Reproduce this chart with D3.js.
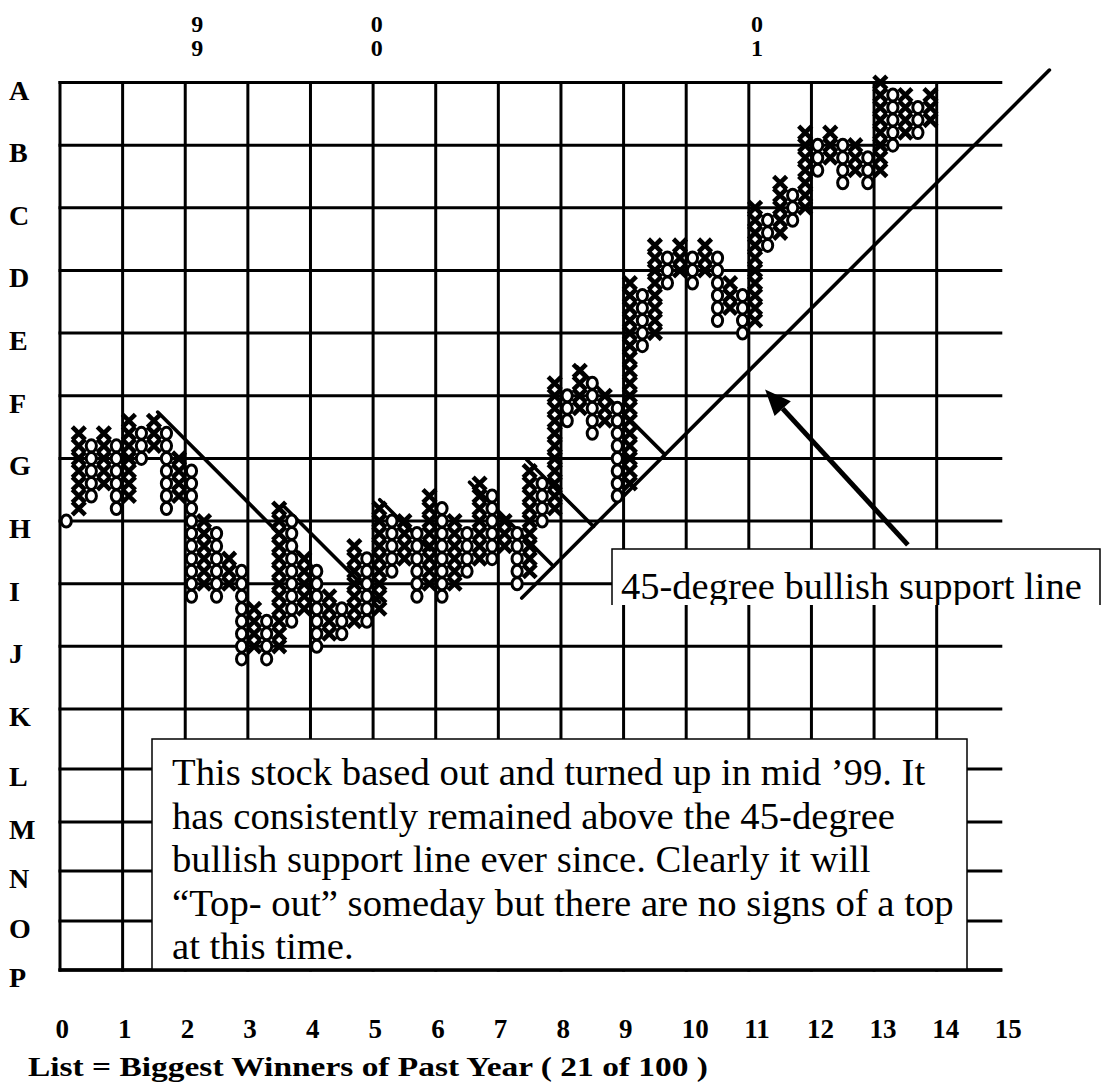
<!DOCTYPE html>
<html><head><meta charset="utf-8">
<script src="https://cdn.jsdelivr.net/npm/d3@7"></script>
<style>html,body{margin:0;padding:0;background:#fff;} svg{display:block}</style>
</head><body>
<script>
// ---- data ----
const rowLabels = ["A","B","C","D","E","F","G","H","I","J","K","L","M","N","O","P"];
const xTickLabels = ["0","1","2","3","4","5","6","7","8","9","10","11","12","13","14","15"];
const yearLabels = [["9","9"],["0","0"],["0","1"]];
const yearPos = [2.19, 5.06, 11.13];            // in grid-column units
const colTypes = "OXOXOXOXOXOXOXOXOXOXOXOXOXOXOXOXOXOXOXOXOXOXOXOXOXOXOXOXOXOXOXOXOXOXOX";
const colHigh = [15,22,21,22,21,23,22,23,22,20,19,15,14,12,11,8,7,16,15,12,11,9,8,13,12,16,15,15,14,17,16,15,14,18,17,15,14,19,18,26,25,27,26,25,24,34,33,37,36,37,36,37,36,34,33,40,39,42,41,46,45,46,45,45,44,50,49,49,48,49];
const colLow  = [15,16,17,18,16,17,20,21,16,17,9,10,9,10,4,5,4,5,7,8,5,6,6,7,7,8,11,12,9,10,9,10,11,12,12,13,10,11,15,16,23,24,22,23,17,18,29,30,34,35,34,35,31,32,30,31,37,38,39,40,43,44,42,43,42,43,45,46,46,47];
// trend lines: [startColumn, startLevel, endColumn, direction(-1 down, +1 up)]
const trendLines = [
  [7.3, 23.7, 20.1, -1],
  [17.45, 16.1, 25.03, -1],
  [25.03, 16.7, 29.03, -1],
  [32.2, 18.1, 38.9, -1],
  [36.77, 19.9, 42.1, -1],
  [40.8, 27.3, 47.8, -1],
  [36.37, 8.86, 78.5, 1]
];
const arrowFrom = [67.2, 13.1], arrowTo = [55.8, 25.5];
const noteLines = [
  "This stock based out and turned up in mid \u201999. It",
  "has consistently remained above the 45-degree",
  "bullish support line ever since. Clearly it will",
  "\u201cTop- out\u201d someday but there are no signs of a top",
  "at this time."
];
const calloutText = "45-degree bullish support line";
const axisTitle = "List =  Biggest Winners of Past Year  ( 21  of  100 )";

// ---- scales ----
const W = 1105, H = 1083;
const gx = d3.scaleLinear().domain([0, 15]).range([60, 999.3]);
const gy = d3.scaleLinear().domain([0,10,11,12,13,14,15]).range([82.5,709,769,822,871,921,970]);
const colX = k => gx((k + 0.5) / 5);
const lvlY = L => gy((50 - L) / 5);
const serif = "'Liberation Serif','Times New Roman',serif";

const svg = d3.select("body").append("svg").attr("width", W).attr("height", H);
svg.append("rect").attr("width", W).attr("height", H).attr("fill", "#fff");

// grid
const grid = svg.append("g").attr("stroke", "#000").attr("stroke-width", 3);
grid.selectAll("line.h").data(rowLabels).join("line").attr("class","h")
  .attr("x1", gx(0)-1.5).attr("x2", gx(15)+3).attr("y1", (d,i)=>gy(i)).attr("y2", (d,i)=>gy(i));
grid.selectAll("line.v").data(d3.range(15)).join("line").attr("class","v")
  .attr("x1", d=>gx(d)).attr("x2", d=>gx(d)).attr("y1", gy(0)-1.5).attr("y2", gy(15)+1.5);

// row labels
svg.append("g").selectAll("text").data(rowLabels).join("text")
  .attr("x", 9).attr("y", (d,i)=>gy(i)+17)
  .attr("font-family", serif).attr("font-weight","bold").attr("font-size", 28)
  .text(d=>d);

// x tick labels
svg.append("g").selectAll("text").data(xTickLabels).join("text")
  .attr("x", (d,i)=>gx(i)-4.5).attr("y", 1038)
  .attr("font-family", serif).attr("font-weight","bold").attr("font-size", 27)
  .text(d=>d);

// year labels (stacked digits)
const yl = svg.append("g").attr("font-family", serif).attr("font-weight","bold").attr("font-size", 24).attr("text-anchor","middle");
yearLabels.forEach((pair, i) => {
  pair.forEach((ch, j) => {
    yl.append("text").attr("x", gx(yearPos[i])).attr("y", 32 + j*24).text(ch);
  });
});

// trend lines
svg.append("g").attr("stroke","#000").attr("stroke-width",3.6).attr("stroke-linecap","round")
  .selectAll("line").data(trendLines).join("line")
  .attr("x1", d=>colX(d[0])).attr("y1", d=>lvlY(d[1]))
  .attr("x2", d=>colX(d[2])).attr("y2", d=>lvlY(d[1] + d[3]*(d[2]-d[0])));

// P&F glyphs
const boxes = [];
for (let k = 0; k < colTypes.length; k++) {
  for (let L = colLow[k]; L <= colHigh[k]; L++) boxes.push({k, L, t: colTypes[k]});
}
const pf = svg.append("g");
pf.selectAll("path.x").data(boxes.filter(b=>b.t==="X")).join("path").attr("class","x")
  .attr("transform", d=>`translate(${colX(d.k)},${lvlY(d.L)})`)
  .attr("d","M-6.5,-6.4L6.5,6.4M6.5,-6.4L-6.5,6.4").attr("stroke","#000").attr("stroke-width",4.6).attr("fill","none");
pf.selectAll("ellipse.o").data(boxes.filter(b=>b.t==="O")).join("ellipse").attr("class","o")
  .attr("cx", d=>colX(d.k)).attr("cy", d=>lvlY(d.L)).attr("rx",5.1).attr("ry",6)
  .attr("fill","#fff").attr("stroke","#000").attr("stroke-width",3);

// arrow
const ax1 = colX(arrowFrom[0]), ay1 = lvlY(arrowFrom[1]);
const ax2 = colX(arrowTo[0]), ay2 = lvlY(arrowTo[1]);
const ang = Math.atan2(ay2-ay1, ax2-ax1);
const headLen = 26, headW = 11;
const bx = ax2 - headLen*Math.cos(ang), by = ay2 - headLen*Math.sin(ang);
svg.append("line").attr("x1",ax1).attr("y1",ay1).attr("x2",bx).attr("y2",by)
  .attr("stroke","#000").attr("stroke-width",5);
svg.append("path").attr("fill","#000").attr("d",
  `M${ax2},${ay2}L${bx + headW*Math.sin(ang)},${by - headW*Math.cos(ang)}L${bx - headW*Math.sin(ang)},${by + headW*Math.cos(ang)}Z`);

// callout box
const cg = svg.append("g");
cg.append("defs").append("clipPath").attr("id","cclip").append("rect").attr("x",0).attr("y",0).attr("width",W).attr("height",605);
cg.append("rect").attr("x",612).attr("y",549).attr("width",488).attr("height",70)
  .attr("fill","#fff").attr("stroke","#000").attr("stroke-width",1.5).attr("clip-path","url(#cclip)");
cg.append("text").attr("x",621).attr("y",599).attr("font-family",serif).attr("font-size",38.5)
  .attr("clip-path","url(#cclip)").text(calloutText);

// note box
svg.append("rect").attr("x",152).attr("y",739).attr("width",815).attr("height",231)
  .attr("fill","#fff").attr("stroke","#000").attr("stroke-width",1.5);
svg.append("g").selectAll("text").data(noteLines).join("text")
  .attr("x",172).attr("y",(d,i)=>785 + i*43.5)
  .attr("font-family",serif).attr("font-size",38.7).text(d=>d);
// bottom grid line redrawn over box bottom
svg.append("line").attr("x1",gx(0)-1.5).attr("x2",gx(15)+3).attr("y1",gy(15)).attr("y2",gy(15)).attr("stroke","#000").attr("stroke-width",3.5);

// axis title
svg.append("text").attr("x",28).attr("y",1076).attr("font-family",serif).attr("font-weight","bold")
  .attr("font-size",27).attr("textLength",680).attr("lengthAdjust","spacingAndGlyphs").text(axisTitle);
</script>
</body></html>
